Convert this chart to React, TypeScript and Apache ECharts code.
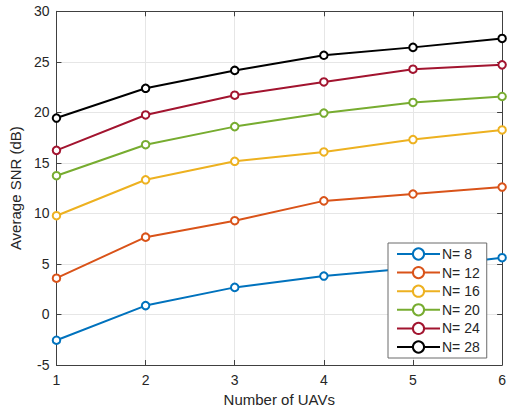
import React, { useEffect, useRef } from "react";
import * as echarts from "echarts";

const uavs = [1, 2, 3, 4, 5, 6];
const seriesNames = ["N= 8", "N= 12", "N= 16", "N= 20", "N= 24", "N= 28"];
const snrN8 = [-2.55, 0.88, 2.68, 3.8, 4.6, 5.62];
const snrN12 = [3.59, 7.65, 9.28, 11.24, 11.92, 12.61];
const snrN16 = [9.77, 13.33, 15.16, 16.08, 17.31, 18.26];
const snrN20 = [13.73, 16.8, 18.59, 19.93, 20.98, 21.57];
const snrN24 = [16.24, 19.74, 21.7, 23.01, 24.27, 24.7];
const snrN28 = [19.44, 22.38, 24.15, 25.65, 26.43, 27.31];
const allSeries = [snrN8, snrN12, snrN16, snrN20, snrN24, snrN28];
const colors = ["#0072BD", "#D95319", "#EDB120", "#77AC30", "#A2142F", "#000000"];

const FONT = "'Liberation Sans', Arial, sans-serif";
const AX = "#404040";
const TXT = "#262626";

export default function App() {
  const ref = useRef<HTMLDivElement>(null);
  useEffect(() => {
    if (!ref.current) return;
    const chart = echarts.init(ref.current, undefined, { renderer: "svg" });
    const tickCommon = { show: true, inside: true, length: 5, lineStyle: { color: AX, width: 1 } };
    const lineCommon = { show: true, onZero: false, lineStyle: { color: AX, width: 1 } };
    chart.setOption({
      animation: false,
      textStyle: { fontFamily: FONT },
      grid: { left: 51.7, right: 4.5, top: 11.3, bottom: 43, containLabel: false },
      legend: {
        orient: "vertical",
        left: 388,
        top: 243,
        backgroundColor: "#ffffff",
        borderColor: "#6b6b6b",
        borderWidth: 1,
        borderRadius: 0,
        padding: [4, 7, 4, 8],
        itemWidth: 43,
        itemHeight: 14,
        itemGap: 4.6,
        textStyle: { fontSize: 14, color: TXT, fontFamily: FONT, padding: [0, 0, 0, -3] },
        data: seriesNames,
      },
      xAxis: [
        {
          type: "value",
          min: 1,
          max: 6,
          interval: 1,
          name: "Number of UAVs",
          nameLocation: "middle",
          nameGap: 27,
          nameTextStyle: { fontSize: 15, color: TXT, fontFamily: FONT },
          axisLine: lineCommon,
          axisTick: tickCommon,
          axisLabel: { fontSize: 14, color: TXT, margin: 8, fontFamily: FONT },
          splitLine: { show: true, lineStyle: { color: "#e6e6e6", width: 1 } },
        },
        {
          type: "value",
          position: "top",
          min: 1,
          max: 6,
          interval: 1,
          axisLine: lineCommon,
          axisTick: tickCommon,
          axisLabel: { show: false },
          splitLine: { show: false },
        },
      ],
      yAxis: [
        {
          type: "value",
          min: -5,
          max: 30,
          interval: 5,
          name: "Average SNR (dB)",
          nameLocation: "middle",
          nameGap: 25,
          nameTextStyle: { fontSize: 15, color: TXT, fontFamily: FONT },
          axisLine: lineCommon,
          axisTick: tickCommon,
          axisLabel: { fontSize: 14, color: TXT, margin: 7, fontFamily: FONT },
          splitLine: { show: true, lineStyle: { color: "#e6e6e6", width: 1 } },
        },
        {
          type: "value",
          position: "right",
          min: -5,
          max: 30,
          interval: 5,
          axisLine: lineCommon,
          axisTick: tickCommon,
          axisLabel: { show: false },
          splitLine: { show: false },
        },
      ],
      series: allSeries.map((vals, i) => ({
        name: seriesNames[i],
        type: "line",
        xAxisIndex: 0,
        yAxisIndex: 0,
        data: vals.map((v, j) => [uavs[j], v]),
        symbol: "emptyCircle",
        symbolSize: 7.5,
        showAllSymbol: true,
        lineStyle: { color: colors[i], width: 2 },
        itemStyle: { color: colors[i], borderColor: colors[i], borderWidth: 2 },
        emphasis: { disabled: true },
        z: 2 + i,
      })),
    });
    return () => chart.dispose();
  }, []);
  return <div ref={ref} style={{ width: 509, height: 412, position: "absolute", left: 0, top: 0 }} />;
}
